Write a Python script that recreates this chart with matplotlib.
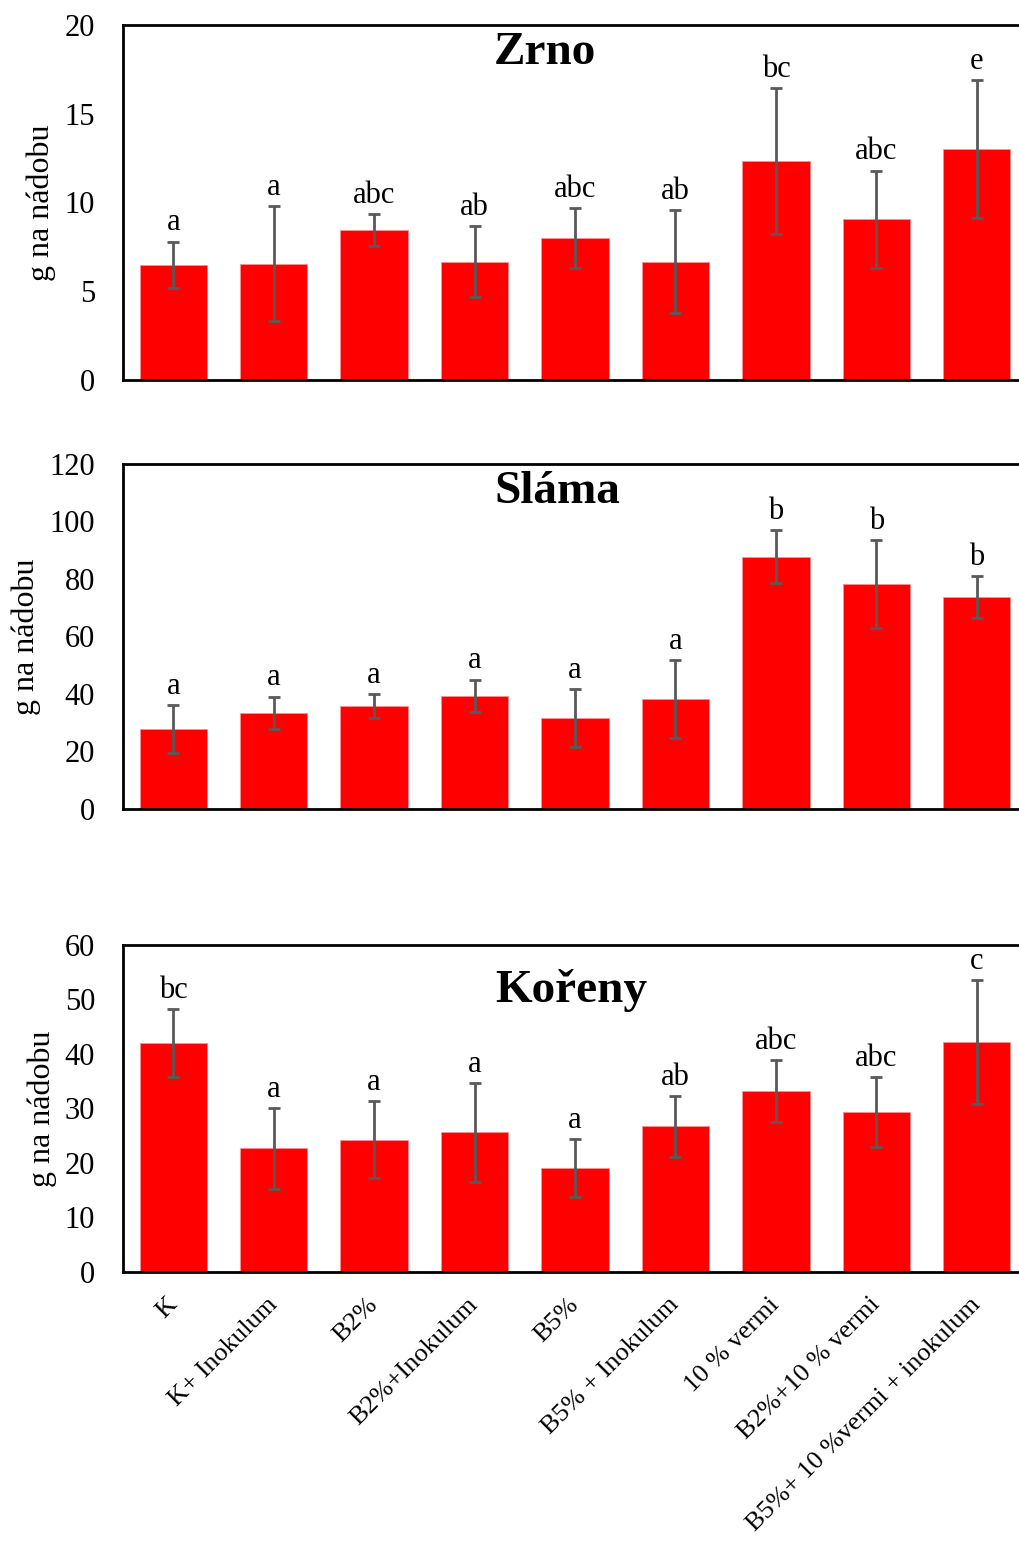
import numpy as np
import matplotlib.pyplot as plt

plt.rcParams['font.family'] = ['Liberation Serif', 'DejaVu Serif']

# varianty pokusu
varianty = ['K', 'K+ Inokulum', 'B2%', 'B2%+Inokulum', 'B5%', 'B5% + Inokulum',
            '10 % vermi', 'B2%+10 % vermi', 'B5%+ 10 %vermi + inokulum']

# zrno - prumer, smerodatna odchylka, homogenni skupiny
zrno = [6.5, 6.55, 8.45, 6.65, 8.0, 6.65, 12.35, 9.05, 13.0]
zrno_sd = [1.3, 3.25, 0.9, 2.0, 1.7, 2.9, 4.1, 2.75, 3.9]
zrno_pis = ['a', 'a', 'abc', 'ab', 'abc', 'ab', 'bc', 'abc', 'e']

# slama
slama = [27.8, 33.4, 35.8, 39.3, 31.7, 38.3, 87.7, 78.3, 73.7]
slama_sd = [8.2, 5.7, 4.1, 5.7, 10.0, 13.5, 9.2, 15.2, 7.4]
slama_pis = ['a', 'a', 'a', 'a', 'a', 'a', 'b', 'b', 'b']

# koreny
koreny = [42.0, 22.7, 24.3, 25.6, 19.1, 26.7, 33.2, 29.4, 42.2]
koreny_sd = [6.3, 7.4, 7.0, 9.1, 5.3, 5.6, 5.7, 6.4, 11.3]
koreny_pis = ['bc', 'a', 'a', 'a', 'a', 'ab', 'abc', 'abc', 'c']

fig = plt.figure(figsize=(10.19, 15.42), dpi=100)

panely = [
    ('Zrno', zrno, zrno_sd, zrno_pis, 20, 5, [0.1207, 0.7536, 0.8872, 0.2302], (0.467, 0.922)),
    ('Sláma', slama, slama_sd, slama_pis, 120, 20, [0.1207, 0.4754, 0.8872, 0.2237], (0.48, 0.918)),
    ('Kořeny', koreny, koreny_sd, koreny_pis, 60, 10, [0.1207, 0.1751, 0.8872, 0.2121], (0.496, 0.862)),
]

x = np.arange(len(varianty))
for nazev, hodnoty, sd, pismena, ymax, krok, pozice, tpos in panely:
    ax = fig.add_axes(pozice)
    ax.bar(x, hodnoty, width=0.67, color='#ff0000', edgecolor='#ff9090', linewidth=0.6, zorder=2)
    ax.errorbar(x, hodnoty, yerr=sd, fmt='none', ecolor='#595959', elinewidth=2,
                capsize=4.3, capthick=2, zorder=3)
    for xi, h, s, p in zip(x, hodnoty, sd, pismena):
        ax.annotate(p, (xi, h + s), xytext=(0, 3), textcoords='offset points',
                    ha='center', va='bottom', fontsize=22)
    ax.text(tpos[0], tpos[1], nazev, transform=ax.transAxes, ha='center', va='center',
            fontsize=34, fontweight='bold')
    ax.set_xlim(-0.5, len(varianty) - 0.5)
    ax.set_ylim(0, ymax)
    ax.set_yticks(np.arange(0, ymax + 1, krok))
    ax.tick_params(axis='y', length=0, pad=20, labelsize=22)
    ax.tick_params(axis='x', length=0)
    ax.set_ylabel('g na nádobu', fontsize=23, labelpad=6)
    for sp in ax.spines.values():
        sp.set_linewidth(2)
    if nazev == 'Kořeny':
        ax.set_xticks(x)
        ax.set_xticklabels(varianty, rotation=45, ha='right', va='center',
                           rotation_mode='anchor', fontsize=19)
        ax.tick_params(axis='x', pad=21)
    else:
        ax.set_xticks([])

fig.savefig('out.png', dpi=100)
